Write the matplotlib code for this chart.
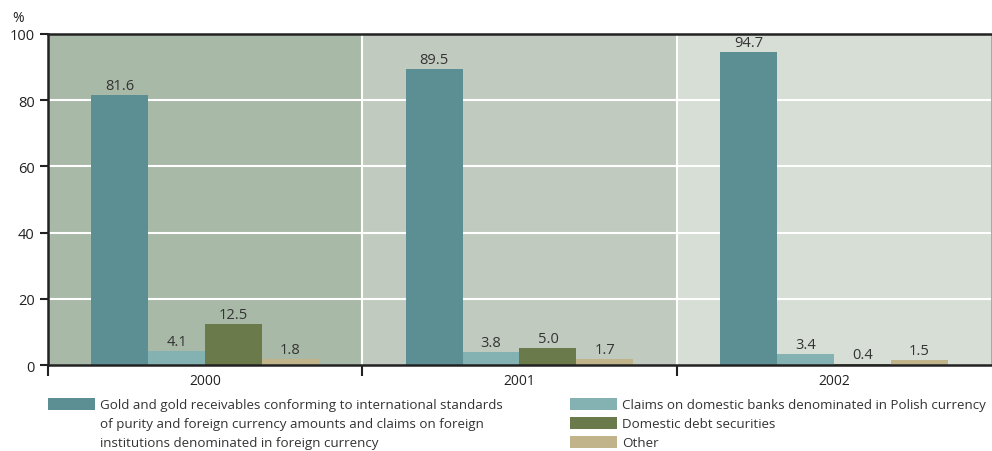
import matplotlib.pyplot as plt
from matplotlib.patches import Rectangle
import numpy as np

plt.rcParams['font.family'] = ['Open Sans', 'DejaVu Sans']

years = ['2000', '2001', '2002']
gold = [81.6, 89.5, 94.7]
claims = [4.1, 3.8, 3.4]
debt = [12.5, 5.0, 0.4]
other = [1.8, 1.7, 1.5]

series = [gold, claims, debt, other]
colors = ['#5b8f93', '#84b1b1', '#6a7a4a', '#c2b48a']
labels = ['Gold and gold receivables conforming to international standards\n'
          'of purity and foreign currency amounts and claims on foreign\n'
          'institutions denominated in foreign currency',
          'Claims on domestic banks denominated in Polish currency',
          'Domestic debt securities',
          'Other']
panel_colors = ['#a9b9a7', '#c1cabf', '#d7ded6']

fig = plt.figure(figsize=(9.92, 4.52), dpi=100)
ax = fig.add_axes([48 / 992, 1 - 366 / 452, 943 / 992, 331 / 452])

x = np.arange(len(years))
w = 0.181

# background panels per year
for i, c in enumerate(panel_colors):
    ax.axvspan(i - 0.5, i + 0.5, color=c, zorder=0, lw=0)
for b in [0.5, 1.5]:
    ax.axvline(b, color='white', lw=1.5, zorder=1)
for yv in [20, 40, 60, 80]:
    ax.axhline(yv, color='white', lw=1.5, zorder=1)

for k, (vals, col) in enumerate(zip(series, colors)):
    pos = x + (k - 1.5) * w
    ax.bar(pos, vals, width=w, color=col, zorder=2, lw=0)
    for p, v in zip(pos, vals):
        ax.text(p, v + 1.8, f'{v:.1f}', ha='center', va='baseline',
                fontsize=10.5, color='#333333', zorder=3)

ax.set_xlim(-0.5, 2.5)
ax.set_ylim(0, 100)
ax.set_yticks([0, 20, 40, 60, 80, 100])
ax.set_xticks(x)
ax.set_xticklabels(years)
ax.set_xticks([-0.5, 0.5, 1.5], minor=True)
ax.tick_params(axis='x', which='major', length=0, labelsize=10, pad=6, colors='#222222')
ax.tick_params(axis='x', which='minor', length=8, width=1.5, color='#222222')
ax.tick_params(axis='y', length=6, width=1.5, labelsize=10.5, color='#222222', labelcolor='#222222')

for s in ['left', 'top', 'bottom']:
    ax.spines[s].set_linewidth(1.8)
    ax.spines[s].set_color('#222222')
ax.spines['right'].set_linewidth(0.6)
ax.spines['right'].set_color('#999999')

fig.text(12 / 992, 1 - 18 / 452, '%', fontsize=10, color='#222222', va='center')

# legend
def legend_item(px, py, col, text):
    fig.patches.append(Rectangle((px / 992, 1 - (py + 6) / 452), 47 / 992, 12 / 452,
                                 transform=fig.transFigure, color=col, lw=0))
    fig.text((px + 52) / 992, 1 - (py - 6) / 452, text, fontsize=9.6, color='#333333',
             va='top', ha='left', linespacing=1.62)

legend_item(48, 405, colors[0], labels[0])
legend_item(570, 405, colors[1], labels[1])
legend_item(570, 424, colors[2], labels[2])
legend_item(570, 443, colors[3], labels[3])

fig.savefig('out.png', dpi=100)
